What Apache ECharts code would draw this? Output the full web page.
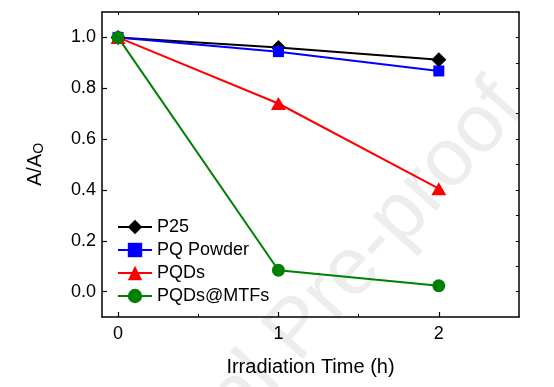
<!DOCTYPE html>
<html>
<head>
<meta charset="utf-8">
<script src="https://cdn.jsdelivr.net/npm/echarts@6/dist/echarts.min.js"></script>
<style>
html,body{margin:0;padding:0;background:#fff;}
#chart{width:554px;height:387px;}
</style>
</head>
<body>
<div id="chart"></div>
<script>
// Data
var times = [0, 1, 2];
var seriesNames = ['P25', 'PQ Powder', 'PQDs', 'PQDs@MTFs'];
var p25 = [1.0, 0.96, 0.912];
var pqPowder = [1.0, 0.944, 0.868];
var pqds = [1.0, 0.74, 0.405];
var pqdsMtfs = [1.0, 0.084, 0.023];
var xTickLabels = [0, 1, 2];
var xMinorTicks = [0.5, 1.5];
var xTopTicks = [0, 0.5, 1, 1.5, 2];
var yTickLabels = [0.0, 0.2, 0.4, 0.6, 0.8, 1.0];
var yRightTicks = [0.0, 0.1, 0.2, 0.3, 0.4, 0.5, 0.6, 0.7, 0.8, 0.9, 1.0];

function pairs(vals){ return times.map(function(t,i){ return [t, vals[i]]; }); }

var font = 'Liberation Sans, Arial, sans-serif';
var chart = echarts.init(document.getElementById('chart'), null, {renderer:'canvas'});

var seriesDefs = [
  {name: seriesNames[0], vals: p25, color: '#000000', symbol: 'diamond', size: [15, 15]},
  {name: seriesNames[1], vals: pqPowder, color: '#0000ff', symbol: 'rect', size: [11, 11]},
  {name: seriesNames[2], vals: pqds, color: '#ff0000', symbol: 'triangle', size: [15, 13]},
  {name: seriesNames[3], vals: pqdsMtfs, color: '#008000', symbol: 'circle', size: [13, 13]}
];

var option = {
  animation: false,
  backgroundColor: '#ffffff',
  grid: {left: 102, right: 35, top: 12, bottom: 70, containLabel: false},
  legend: {
    orient: 'vertical', left: 117, top: 217, padding: 0,
    itemWidth: 34, itemHeight: 18, itemGap: 3,
    textStyle: {fontFamily: font, fontSize: 18, color: '#000', lineHeight: 20},
    data: seriesNames
  },
  graphic: [{
    type: 'text', x: 540, y: 122, rotation: 0.84, z: -10, silent: true,
    style: {text: 'Journal Pre-proof', fontFamily: font, fontSize: 82, fill: '#ededed',
            textAlign: 'right', textVerticalAlign: 'bottom'}
  }],
  xAxis: [
    {
      type: 'value', position: 'bottom', min: -0.1, max: 2.5,
      name: 'Irradiation Time (h)', nameLocation: 'middle', nameGap: 40,
      nameTextStyle: {fontFamily: font, fontSize: 20, color: '#000'},
      axisLine: {show: true, onZero: false, lineStyle: {color: '#000', width: 1.5}},
      axisTick: {show: true, inside: true, length: 5, customValues: xTickLabels, lineStyle: {color: '#000', width: 1.2}},
      axisLabel: {show: true, customValues: xTickLabels, margin: 8, fontFamily: font, fontSize: 18, color: '#000'},
      splitLine: {show: false}
    },
    {
      type: 'value', position: 'bottom', min: -0.1, max: 2.5,
      axisLine: {show: false, onZero: false},
      axisTick: {show: true, inside: true, length: 3, customValues: xMinorTicks, lineStyle: {color: '#000', width: 1}},
      axisLabel: {show: false}, splitLine: {show: false}
    },
    {
      type: 'value', position: 'top', min: -0.1, max: 2.5,
      axisLine: {show: true, onZero: false, lineStyle: {color: '#000', width: 1.5}},
      axisTick: {show: true, inside: true, length: 3, customValues: xTopTicks, lineStyle: {color: '#000', width: 1}},
      axisLabel: {show: false}, splitLine: {show: false}
    }
  ],
  yAxis: [
    {
      type: 'value', position: 'left', min: -0.1, max: 1.1,
      name: 'A/A{sub|O}', nameLocation: 'middle', nameGap: 56, nameRotate: 90,
      nameTextStyle: {fontFamily: font, fontSize: 20, color: '#000',
        rich: {sub: {fontFamily: font, fontSize: 14, color: '#000', verticalAlign: 'bottom', padding: [8, 0, 0, 0]}}},
      axisLine: {show: true, onZero: false, lineStyle: {color: '#000', width: 1.5}},
      axisTick: {show: true, inside: true, length: 5, customValues: yTickLabels, lineStyle: {color: '#000', width: 1.2}},
      axisLabel: {show: true, customValues: yTickLabels, margin: 6, fontFamily: font, fontSize: 18, color: '#000',
        formatter: function(v){ return Number(v).toFixed(1); }},
      splitLine: {show: false}
    },
    {
      type: 'value', position: 'right', min: -0.1, max: 1.1,
      axisLine: {show: true, onZero: false, lineStyle: {color: '#000', width: 1.5}},
      axisTick: {show: true, inside: true, length: 3, customValues: yRightTicks, lineStyle: {color: '#000', width: 1}},
      axisLabel: {show: false}, splitLine: {show: false}
    }
  ],
  series: seriesDefs.map(function(d){
    return {
      name: d.name, type: 'line', xAxisIndex: 0, yAxisIndex: 0,
      data: pairs(d.vals), symbol: d.symbol, symbolSize: d.size,
      lineStyle: {color: d.color, width: 2},
      itemStyle: {color: d.color},
      emphasis: {disabled: true}
    };
  })
};
chart.setOption(option);
</script>
</body>
</html>
